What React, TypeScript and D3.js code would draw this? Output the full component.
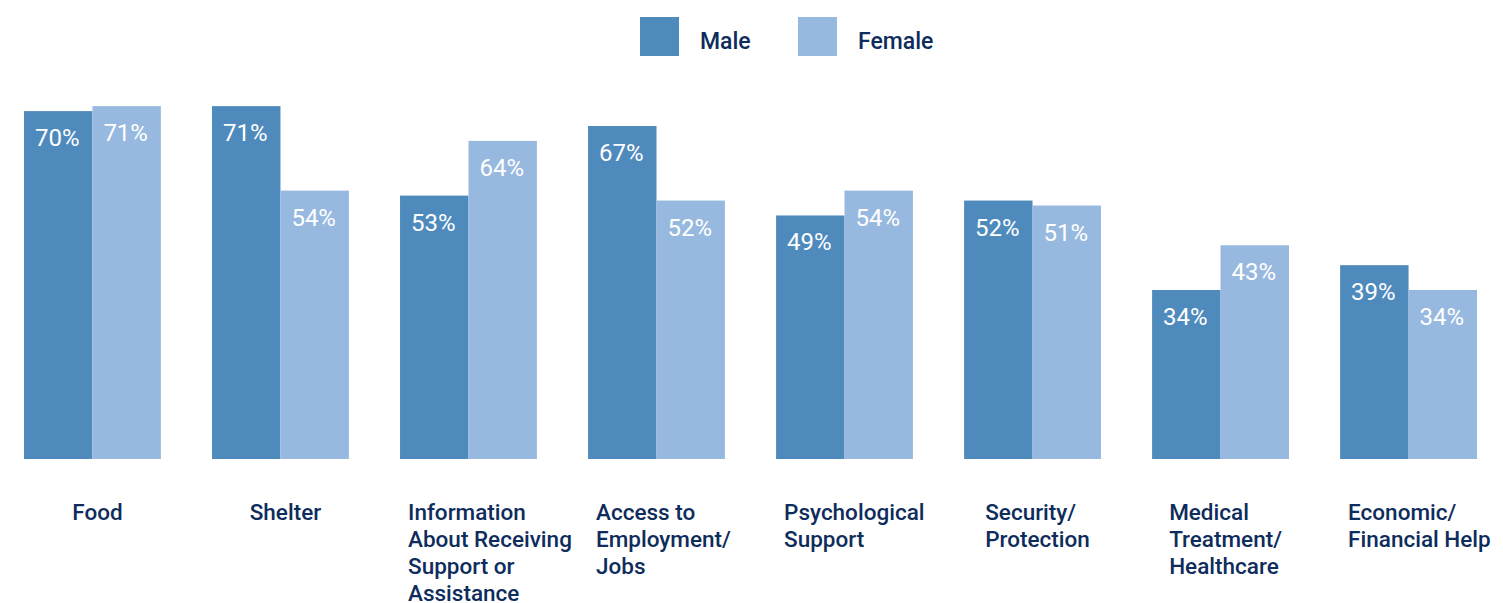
import { useEffect, useRef } from 'react';
import * as d3 from 'd3';

const CATEGORIES = [
  ['Food'],
  ['Shelter'],
  ['Information', 'About Receiving', 'Support or', 'Assistance'],
  ['Access to', 'Employment/', 'Jobs'],
  ['Psychological', 'Support'],
  ['Security/', 'Protection'],
  ['Medical', 'Treatment/', 'Healthcare'],
  ['Economic/', 'Financial Help'],
];
const MALE = [70, 71, 53, 67, 49, 52, 34, 39];
const FEMALE = [71, 54, 64, 52, 54, 51, 43, 34];
const SERIES = ['Male', 'Female'];

const WIDTH = 1503;
const HEIGHT = 603;
const COLORS = ['#4f8abd', '#98b9df'];
const TEXT = '#0e2c5c';
const FONT = 'Roboto, "Noto Sans", sans-serif';

export default function App() {
  const ref = useRef<SVGSVGElement | null>(null);

  useEffect(() => {
    if (!ref.current) return;
    const svg = d3.select(ref.current);
    svg.selectAll('*').remove();

    const x0 = d3
      .scaleBand<number>()
      .domain(d3.range(CATEGORIES.length))
      .range([24, 1477])
      .paddingInner(0.272)
      .paddingOuter(0);
    const x1 = d3.scaleBand<number>().domain([0, 1]).range([0, x0.bandwidth()]);
    const y = d3.scaleLinear().domain([0, 100]).range([459, -38]);

    const rows = CATEGORIES.map((_, i) => [MALE[i], FEMALE[i]]);

    const group = svg
      .selectAll('g.grp')
      .data(rows)
      .join('g')
      .attr('class', 'grp')
      .attr('transform', (_, i) => `translate(${x0(i)},0)`);

    group
      .selectAll('rect')
      .data(d => d)
      .join('rect')
      .attr('x', (_, j) => x1(j)!)
      .attr('width', x1.bandwidth())
      .attr('y', d => y(d))
      .attr('height', d => y(0) - y(d))
      .attr('fill', (_, j) => COLORS[j]);

    group
      .selectAll('text.val')
      .data(d => d)
      .join('text')
      .attr('class', 'val')
      .attr('x', (_, j) => x1(j)! + x1.bandwidth() / 2 - 1)
      .attr('y', d => y(d) + 35)
      .attr('text-anchor', 'middle')
      .attr('fill', '#fff')
      .style('font-family', FONT)
      .style('font-size', '24px')
      .text(d => `${d}%`);

    // category labels, block roughly centred under the pair of bars
    CATEGORIES.forEach((lines, i) => {
      const t = svg
        .append('text')
        .attr('fill', TEXT)
        .style('font-family', FONT)
        .style('font-size', '22.5px')
        .style('font-weight', 500);
      t.selectAll('tspan')
        .data(lines)
        .join('tspan')
        .attr('dy', (_, k) => (k === 0 ? 0 : 27))
        .text(d => d);
      const widest = d3.max(t.selectAll<SVGTSpanElement, string>('tspan').nodes(), n => n.getComputedTextLength()) || 0;
      const center = x0(i)! + x0.bandwidth() / 2;
      const left = Math.max(center - widest / 2 + 5, x0(i)! + 8);
      t.attr('y', 520);
      t.selectAll('tspan').attr('x', left);
    });

    // legend
    const legend = svg
      .selectAll('g.leg')
      .data(SERIES)
      .join('g')
      .attr('class', 'leg')
      .attr('transform', (_, i) => `translate(${640 + i * 158},17)`);
    legend.append('rect').attr('width', 39).attr('height', 39).attr('fill', (_, i) => COLORS[i]);
    legend
      .append('text')
      .attr('x', 60)
      .attr('y', 32)
      .attr('fill', TEXT)
      .style('font-family', FONT)
      .style('font-size', '23px')
      .style('font-weight', 500)
      .text(d => d);
  }, []);

  return (
    <svg
      ref={ref}
      width={WIDTH}
      height={HEIGHT}
      style={{ position: 'absolute', left: 0, top: 0, background: '#fff' }}
    />
  );
}
